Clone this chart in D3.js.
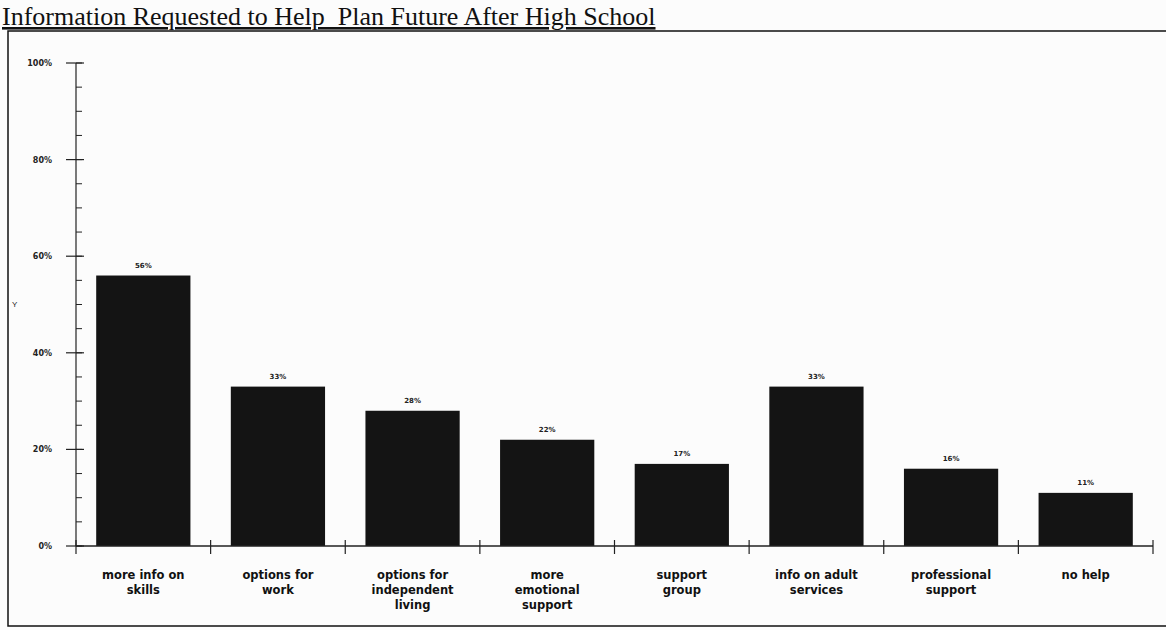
<!DOCTYPE html>
<html lang="en">
<head>
  <meta charset="UTF-8">
  <title>Information Requested to Help Plan Future After High School</title>
  <script src="https://d3js.org/d3.v7.min.js"></script>
  <style>
    body {
      margin: 0;
      background-color: #fcfcfc;
    }
    svg {
      display: block;
    }
  </style>
</head>
<body>
  <svg width="1166" height="630"></svg>

  <script>
  // values
  const categories = [
    "more info on|skills",
    "options for|work",
    "options for|independent|living",
    "more|emotional|support",
    "support|group",
    "info on adult|services",
    "professional|support",
    "no help"
  ];
  const values = [56, 33, 28, 22, 17, 33, 16, 11];
  const yTicks = [0, 20, 40, 60, 80, 100];

  const svg = d3.select("svg");

  const x0 = 76, x1 = 1153;
  const yBase = 546, yTop = 63;

  // outer frame of the scanned page
  svg.append("rect")
    .attr("x", 8)
    .attr("y", 31)
    .attr("width", 1175)
    .attr("height", 595)
    .attr("fill", "none")
    .attr("stroke", "#111")
    .attr("stroke-width", 1.5);

  // title
  svg.append("text")
    .attr("x", 2)
    .attr("y", 25)
    .attr("font-family", "'Liberation Serif', 'Times New Roman', serif")
    .attr("font-size", "26px")
    .attr("fill", "#111")
    .attr("text-decoration", "underline")
    .attr("xml:space", "preserve")
    .text("Information Requested to Help  Plan Future After High School");

  const x = d3.scaleBand()
    .domain(categories)
    .range([x0, x1])
    .paddingInner(0.3)
    .paddingOuter(0.15);

  const y = d3.scaleLinear()
    .domain([0, 100])
    .range([yBase, yTop]);

  // y axis with minor ticks every 5%
  const yAxisG = svg.append("g");
  yAxisG.append("line")
    .attr("x1", x0).attr("x2", x0)
    .attr("y1", yTop).attr("y2", yBase)
    .attr("stroke", "#222").attr("stroke-width", 1.2);

  yAxisG.selectAll(".minor")
    .data(d3.range(0, 101, 5))
    .join("line")
    .attr("x1", x0)
    .attr("x2", x0 + 6)
    .attr("y1", d => y(d))
    .attr("y2", d => y(d))
    .attr("stroke", "#222")
    .attr("stroke-width", 1);

  yAxisG.selectAll(".major")
    .data(yTicks)
    .join("line")
    .attr("x1", x0 - 10)
    .attr("x2", x0 + 8)
    .attr("y1", d => y(d))
    .attr("y2", d => y(d))
    .attr("stroke", "#222")
    .attr("stroke-width", 1.2);

  yAxisG.selectAll("text")
    .data(yTicks)
    .join("text")
    .attr("x", 52)
    .attr("y", d => y(d) + 3)
    .attr("text-anchor", "end")
    .attr("font-family", "'DejaVu Sans', Arial, sans-serif")
    .attr("font-weight", "bold")
    .attr("font-size", "8px")
    .attr("fill", "#222")
    .text(d => d + "%");

  svg.append("text")
    .attr("x", 12)
    .attr("y", 307)
    .attr("font-family", "Arial, sans-serif")
    .attr("font-size", "8px")
    .attr("fill", "#222")
    .text("Y");

  // bars
  svg.append("g")
    .selectAll("rect")
    .data(values)
    .join("rect")
    .attr("x", (d, i) => x(categories[i]))
    .attr("y", d => y(d))
    .attr("width", x.bandwidth())
    .attr("height", d => yBase - y(d))
    .attr("fill", "#141414");

  // value labels
  svg.append("g")
    .selectAll("text")
    .data(values)
    .join("text")
    .attr("x", (d, i) => x(categories[i]) + x.bandwidth() / 2)
    .attr("y", d => y(d) - 8)
    .attr("text-anchor", "middle")
    .attr("font-family", "'DejaVu Sans', Arial, sans-serif")
    .attr("font-weight", "bold")
    .attr("font-size", "7px")
    .attr("fill", "#222")
    .text(d => d + "%");

  // x axis line with ticks at category boundaries
  svg.append("line")
    .attr("x1", x0).attr("x2", x1)
    .attr("y1", yBase).attr("y2", yBase)
    .attr("stroke", "#222").attr("stroke-width", 1.5);

  const bounds = d3.range(categories.length + 1).map(i => x0 + i * (x1 - x0) / categories.length);
  svg.append("g")
    .selectAll("line")
    .data(bounds)
    .join("line")
    .attr("x1", d => d).attr("x2", d => d)
    .attr("y1", yBase - 6).attr("y2", yBase + 8)
    .attr("stroke", "#222").attr("stroke-width", 1.2);

  // category labels (split on |)
  const catG = svg.append("g")
    .selectAll("text")
    .data(categories)
    .join("text")
    .attr("x", d => x(d) + x.bandwidth() / 2)
    .attr("y", 579)
    .attr("text-anchor", "middle")
    .attr("font-family", "'DejaVu Sans', Arial, sans-serif")
    .attr("font-weight", "bold")
    .attr("font-size", "11.5px")
    .attr("fill", "#111");

  catG.selectAll("tspan")
    .data(d => d.split("|"))
    .join("tspan")
    .attr("x", function () { return d3.select(this.parentNode).attr("x"); })
    .attr("dy", (d, i) => i === 0 ? 0 : 15)
    .text(d => d);
  </script>
</body>
</html>
